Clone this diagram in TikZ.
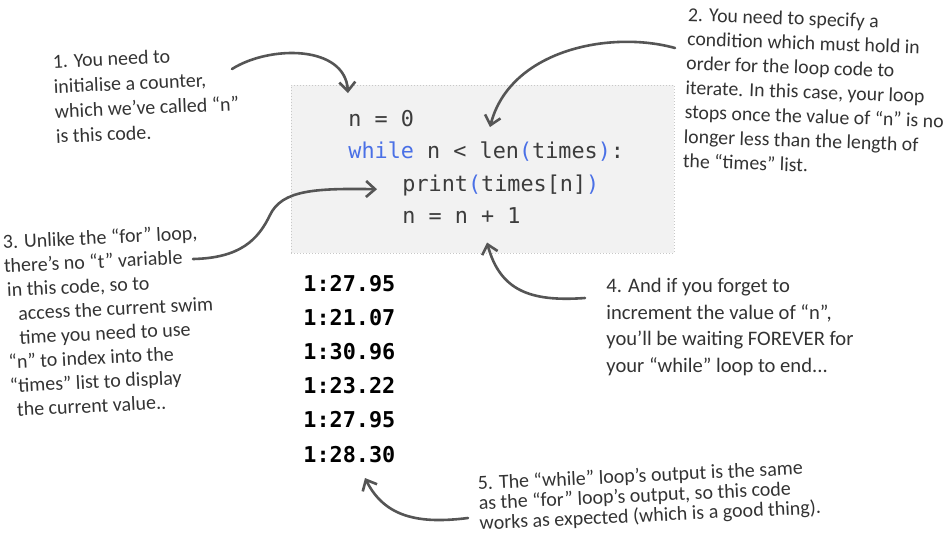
\documentclass[tikz,border=0pt]{standalone}
\usepackage{fontspec}
\usepackage{xcolor}
\usetikzlibrary{calc,arrows.meta}
\newfontfamily\handfont{Carlito}
\newfontfamily\codefont{DejaVu Sans Mono}
\definecolor{boxgray}{HTML}{F2F2F2}
\definecolor{boxline}{HTML}{C8C8C8}
\definecolor{codegray}{HTML}{3C3C3C}
\definecolor{kwblue}{HTML}{4A70E6}
\definecolor{inkgray}{HTML}{333333}
\definecolor{arrowgray}{HTML}{555555}
\newcommand{\kw}[1]{\textcolor{kwblue}{#1}}

\begin{document}
\begin{tikzpicture}[x=0.5pt,y=-0.5pt]
        \tikzstyle{codeline}=[anchor=base west,inner sep=0pt,text=codegray,font=\codefont\fontsize{10.9}{13}\selectfont]
        \tikzstyle{result}=[codeline,text=black,font=\codefont\bfseries\fontsize{10.9}{13}\selectfont]
        \tikzstyle{note}=[anchor=north west,align=left,inner sep=0pt,text=inkgray,font=\handfont\fontsize{10}{12.5}\selectfont]
        \tikzstyle{arr}=[draw=arrowgray,line width=1.3pt,line cap=round,-{Straight Barb[length=4.5pt,width=8pt]}]
        \useasboundingbox (0,0) rectangle (947,542);

            % code box
            \node[draw=boxline,line width=0.5pt,dash pattern=on 0.5pt off 1pt,fill=boxgray,minimum width=191.5pt,minimum height=84pt] (box) at (482.5,169) {};

            \node[codeline] (l1) at (348,126) {n = 0};
            \node[codeline] (l2) at ($(l1.base west)+(0,32.6)$) {\kw{while} n < len\kw{(}times\kw{)}:};
            \node[codeline] (l3) at ($(l2.base west)+(54,32.6)$) {print\kw{(}times[n]\kw{)}};
            \node[codeline] (l4) at ($(l3.base west)+(0,32.6)$) {n = n + 1};

            % output
            \node[result] (o1) at (303,291) {1:27.95};
            \node[result] (o2) at ($(o1.base west)+(0,34.2)$) {1:21.07};
            \node[result] (o3) at ($(o2.base west)+(0,34.2)$) {1:30.96};
            \node[result] (o4) at ($(o3.base west)+(0,34.2)$) {1:23.22};
            \node[result] (o5) at ($(o4.base west)+(0,34.2)$) {1:27.95};
            \node[result] (o6) at ($(o5.base west)+(0,34.2)$) {1:28.30};

            % notes
            \node[note,rotate=2.5] (n1) at (52,54) {1. You need to\\initialise a counter,\\which we’ve called “n”\\is this code.};
            \node[note,rotate=-2,font=\handfont\fontsize{9.9}{12.2}\selectfont] (n2) at (688,7) {2. You need to specify a\\condition which must hold in\\order for the loop code to\\iterate. In this case, your loop\\stops once the value of “n” is no\\longer less than the length of\\the “times” list.};
            \node[note,rotate=2.8,font=\handfont\fontsize{10}{12}\selectfont] (n3) at (2,234) {3. Unlike the “for” loop,\\there’s no “t” variable\\\hspace{1pt}in this code, so to\\\hspace{6pt}access the current swim\\\hspace{6pt}time you need to use\\“n” to index into the\\“times” list to display\\\hspace{3pt}the current value..};
            \node[note,font=\handfont\fontsize{10.3}{13.3}\selectfont] (n4) at (606,278) {4. And if you forget to\\increment the value of “n”,\\you’ll be waiting FOREVER for\\your “while” loop to end...};
            \node[note,rotate=2.7,font=\handfont\fontsize{10}{10}\selectfont] (n5) at (477,475) {5. The “while” loop’s output is the same\\as the “for” loop’s output, so this code\\works as expected (which is a good thing).};

            % arrows
            \coordinate (a1) at ($(n1.north west)+(180,15)$);
            \coordinate (b1) at ($(l1.base west)+(0,-33)$);
            \coordinate (a2) at ($(n2.north west)+(-13,41)$);
            \coordinate (b2) at ($(l2.base west)+(142,-31.6)$);
            \coordinate (a3) at ($(n3.north west)+(191,25)$);
            \coordinate (b3) at ($(l3.base west)+(-25,-2)$);
            \coordinate (a4) at ($(n4.north west)+(-21,20)$);
            \coordinate (b4) at ($(box.south)+(4.5,-11)$);
            \coordinate (a5) at ($(n5.north west)+(-9,43)$);
            \coordinate (b5) at ($(o6.base west)+(62,16)$);

            \draw[arr] (a1) .. controls +(38,-24) and +(-3,-48) .. (b1);
            \draw[arr] (a2) .. controls +(-65,-18) and +(20,-77) .. (b2);
            \draw[arr] (a3) .. controls +(47,-1) and +(-12,25) .. +(77,-44) .. controls +(12,-25) and +(-62,-1) .. (b3);
            \draw[arr] (a4) .. controls +(-55,4) and +(13,48) .. (b4);
            \draw[arr] (a5) .. controls +(-48,6) and +(20,40) .. (b5);

        \end{tikzpicture}
\end{document}
